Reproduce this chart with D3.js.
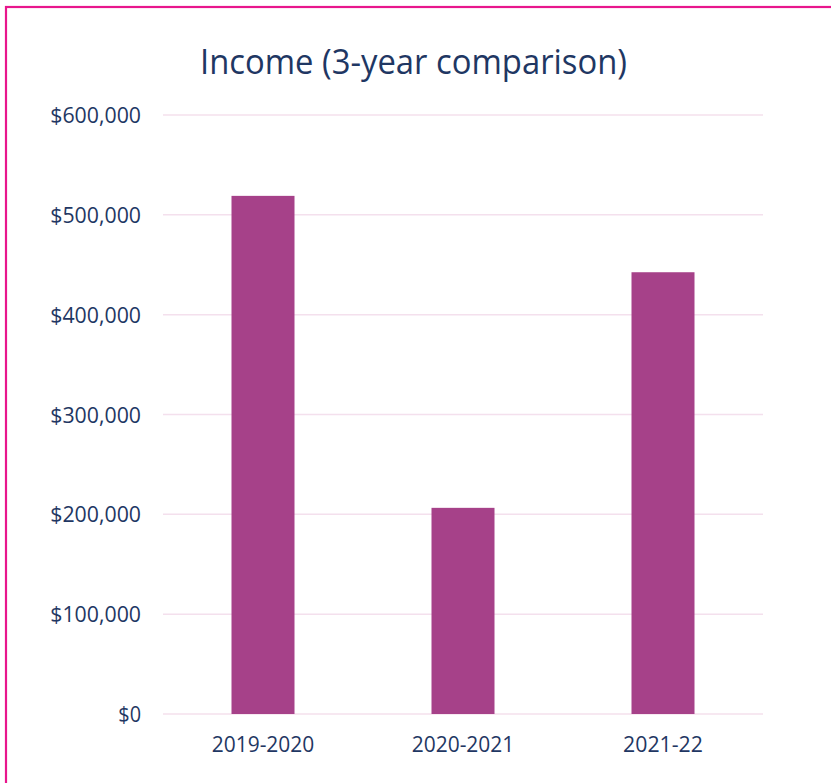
<!DOCTYPE html>
<html>
<head>
<meta charset="utf-8">
<script src="https://cdn.jsdelivr.net/npm/d3@7"></script>
<style>
  html, body { margin: 0; padding: 0; background: #fff; }
  svg { display: block; }
</style>
</head>
<body>
<svg id="chart" width="831" height="783"></svg>
<script>
const categories = ["2019-2020", "2020-2021", "2021-22"];
const incomeValues = [519000, 206500, 442500];
const yTicks = [0, 100000, 200000, 300000, 400000, 500000, 600000];
const titleText = "Income (3-year comparison)";

const svg = d3.select("#chart");
const W = 831, H = 783;
const font = "'Open Sans', 'Noto Sans', sans-serif";
const textColor = "#1f3763";

// frame
svg.append("rect")
  .attr("x", 6).attr("y", 7)
  .attr("width", W + 10).attr("height", H + 10)
  .attr("fill", "#fff")
  .attr("stroke", "#e8168c").attr("stroke-width", 2.2);

const margin = { left: 163, right: W - 763, top: 115, bottom: H - 714 };
const x = d3.scaleBand().domain(categories)
  .range([margin.left, W - margin.right]).padding(0);
const y = d3.scaleLinear().domain([0, 600000]).range([714, 115]);

// gridlines
svg.append("g").selectAll("line").data(yTicks).join("line")
  .attr("x1", margin.left).attr("x2", W - margin.right)
  .attr("y1", d => y(d)).attr("y2", d => y(d))
  .attr("stroke", "#f4e0ed").attr("stroke-width", 1.5);

// bars
const barW = x.bandwidth() * 0.315;
svg.append("g").selectAll("rect").data(incomeValues).join("rect")
  .attr("x", (d, i) => x(categories[i]) + (x.bandwidth() - barW) / 2)
  .attr("y", d => y(d))
  .attr("width", barW)
  .attr("height", d => y(0) - y(d))
  .attr("fill", "#a64189");

// y axis labels
const fmt = d => "$" + d3.format(",")(d);
const yAxis = d3.axisLeft(y).tickValues(yTicks).tickFormat(fmt).tickSize(0).tickPadding(0);
const ya = svg.append("g").attr("transform", "translate(141,0)").call(yAxis);
ya.select(".domain").remove();
ya.selectAll("text")
  .attr("font-family", font).attr("font-size", 21)
  .attr("fill", textColor)
  .attr("dy", "0.36em")
  .each(function(d) {
    const s = fmt(d);
    const w = s.length * 11.35;
    d3.select(this).attr("textLength", w).attr("lengthAdjust", "spacingAndGlyphs");
  });

// x axis labels
const xAxis = d3.axisBottom(x).tickSize(0).tickPadding(0);
const xa = svg.append("g").attr("transform", "translate(0,752)").call(xAxis);
xa.select(".domain").remove();
xa.selectAll("text")
  .attr("font-family", font).attr("font-size", 21)
  .attr("fill", textColor)
  .attr("dy", 0).attr("y", 0)
  .each(function(d) {
    d3.select(this).attr("textLength", d.length * 11.4).attr("lengthAdjust", "spacingAndGlyphs");
  });

// title
svg.append("text")
  .attr("x", 413.5).attr("y", 73.5)
  .attr("text-anchor", "middle")
  .attr("font-family", font).attr("font-size", 34)
  .attr("fill", textColor)
  .attr("textLength", 427).attr("lengthAdjust", "spacingAndGlyphs")
  .text(titleText);
</script>
</body>
</html>
